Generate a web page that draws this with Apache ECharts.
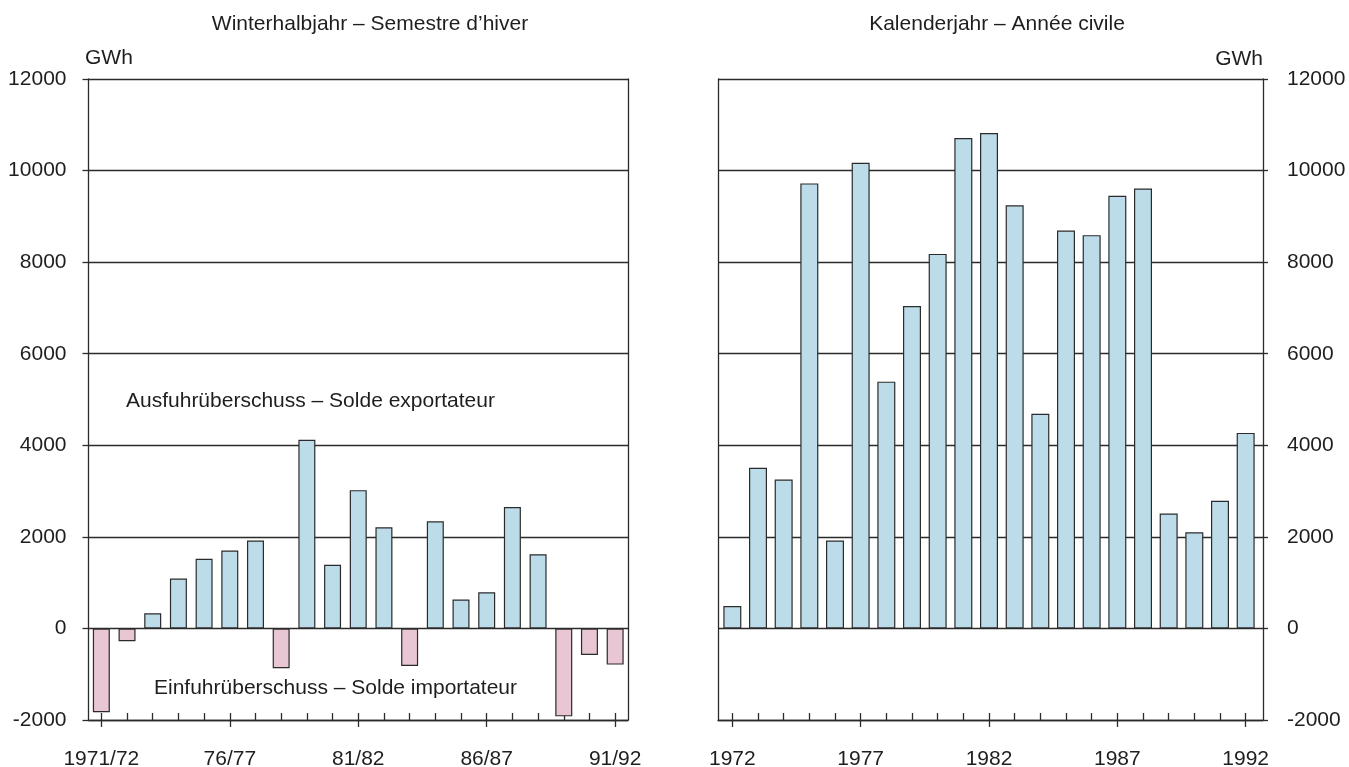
<!DOCTYPE html>
<html>
<head>
<meta charset="utf-8">
<script src="https://cdn.jsdelivr.net/npm/echarts@6/dist/echarts.min.js"></script>
<style>
html,body{margin:0;padding:0;background:#ffffff;}
#chart{width:1349px;height:767px;}
</style>
</head>
<body>
<div id="chart"></div>
<script>
// ---- data ----
const winterCategories = ['1971/72','72/73','73/74','74/75','75/76','76/77','77/78','78/79','79/80','80/81','81/82','82/83','83/84','84/85','85/86','86/87','87/88','88/89','89/90','90/91','91/92'];
const winterValues = [-1830,-280,330,1090,1520,1700,1920,-870,4120,1390,3020,2210,-820,2340,630,790,2650,1620,-1920,-580,-790];
const yearCategories = ['1972','1973','1974','1975','1976','1977','1978','1979','1980','1981','1982','1983','1984','1985','1986','1987','1988','1989','1990','1991','1992'];
const yearValues = [490,3510,3250,9720,1920,10170,5390,7040,8180,10710,10820,9240,4690,8690,8590,9450,9610,2510,2100,2790,4270];
const yTicks = [-2000,0,2000,4000,6000,8000,10000,12000];

const titleLeft = 'Winterhalbjahr \u2013 Semestre d\u2019hiver';
const titleRight = 'Kalenderjahr \u2013 Ann\u00e9e civile';
const unitLabel = 'GWh';
const exportLabel = 'Ausfuhr\u00fcberschuss \u2013 Solde exportateur';
const importLabel = 'Einfuhr\u00fcberschuss \u2013 Solde importateur';

// ---- styles ----
const FONT = '"Liberation Sans", Arial, Helvetica, sans-serif';
const INK = '#2b2b2b';
const TXT = '#1e1e1e';
const BLUE = '#bcdce9';
const PINK = '#e8c6d3';
const FS = 21;
const yMin = yTicks[0], yMax = yTicks[yTicks.length - 1], yStep = yTicks[1] - yTicks[0];

const chart = echarts.init(document.getElementById('chart'), null, {renderer: 'canvas'});

const lineStyle = {color: INK, width: 1.3};
const plainNum = v => String(v);

function frameY(gridIndex, position, opts) {
  return Object.assign({
    type: 'value', gridIndex: gridIndex, position: position,
    min: yMin, max: yMax, interval: yStep,
    axisLine: {show: true, onZero: false, lineStyle: lineStyle},
    axisTick: {show: false},
    axisLabel: {show: false},
    splitLine: {show: false}
  }, opts || {});
}

function barData(values) {
  return values.map(v => ({
    value: v,
    itemStyle: {color: v >= 0 ? BLUE : PINK}
  }));
}

const gridBase = {top: 79, height: 641, containLabel: false, outerBoundsMode: 'none'};

const option = {
  animation: false,
  backgroundColor: '#ffffff',
  textStyle: {fontFamily: FONT},
  grid: [
    Object.assign({left: 88.5, width: 539.5}, gridBase),
    Object.assign({left: 718, width: 545}, gridBase),
    Object.assign({left: 719.5, width: 539}, gridBase)
  ],
  xAxis: [
    {type: 'category', gridIndex: 0, data: winterCategories, position: 'bottom',
     axisLine: {show: true, onZero: false, lineStyle: lineStyle},
     axisTick: {show: true, inside: true, length: 7, alignWithLabel: true, interval: 0, lineStyle: lineStyle},
     axisLabel: {show: false}, splitLine: {show: false}},
    {type: 'category', gridIndex: 0, data: winterCategories, position: 'bottom',
     axisLine: {show: false, onZero: false},
     axisTick: {show: true, inside: false, length: 7, alignWithLabel: true, interval: 4, lineStyle: lineStyle},
     axisLabel: {show: true, interval: 4, margin: 29, fontSize: FS, color: TXT, fontFamily: FONT},
     splitLine: {show: false}},
    {type: 'category', gridIndex: 1, data: yearCategories, position: 'bottom',
     axisLine: {show: true, onZero: false, lineStyle: lineStyle},
     axisTick: {show: false}, axisLabel: {show: false}, splitLine: {show: false}},
    {type: 'category', gridIndex: 2, data: yearCategories, position: 'bottom',
     axisLine: {show: false, onZero: false},
     axisTick: {show: true, inside: true, length: 7, alignWithLabel: true, interval: 0, lineStyle: lineStyle},
     axisLabel: {show: false}, splitLine: {show: false}},
    {type: 'category', gridIndex: 2, data: yearCategories, position: 'bottom',
     axisLine: {show: false, onZero: false},
     axisTick: {show: true, inside: false, length: 7, alignWithLabel: true, interval: 4, lineStyle: lineStyle},
     axisLabel: {show: true, interval: 4, margin: 29, fontSize: FS, color: TXT, fontFamily: FONT},
     splitLine: {show: false}}
  ],
  yAxis: [
    frameY(0, 'left', {
      axisTick: {show: true, inside: false, length: 6, lineStyle: lineStyle},
      axisLabel: {show: true, margin: 22, fontSize: FS, color: TXT, fontFamily: FONT, formatter: plainNum},
      splitLine: {show: true, lineStyle: {color: INK, width: 1.3}}
    }),
    frameY(0, 'right'),
    frameY(1, 'right', {
      axisTick: {show: true, inside: false, length: 5, lineStyle: lineStyle},
      axisLabel: {show: true, margin: 24, fontSize: FS, color: TXT, fontFamily: FONT, formatter: plainNum},
      splitLine: {show: true, lineStyle: {color: INK, width: 1.3}}
    }),
    frameY(1, 'left'),
    frameY(2, 'left', {show: false, axisLine: {show: false}})
  ],
  series: [
    {type: 'bar', name: 'winter', xAxisIndex: 0, yAxisIndex: 0, data: barData(winterValues),
     barWidth: 17, z: 3,
     itemStyle: {borderColor: INK, borderWidth: 1.2}},
    {type: 'bar', name: 'year', xAxisIndex: 3, yAxisIndex: 4, data: barData(yearValues),
     barWidth: 18, z: 3,
     itemStyle: {borderColor: INK, borderWidth: 1.2}}
  ],
  graphic: [
    {type: 'text', x: 370, y: 24, style: {text: titleLeft, font: FS + 'px ' + FONT, fill: TXT, textAlign: 'center', textVerticalAlign: 'middle'}},
    {type: 'text', x: 997, y: 24, style: {text: titleRight, font: FS + 'px ' + FONT, fill: TXT, textAlign: 'center', textVerticalAlign: 'middle'}},
    {type: 'text', x: 85, y: 58, style: {text: unitLabel, font: FS + 'px ' + FONT, fill: TXT, textAlign: 'left', textVerticalAlign: 'middle'}},
    {type: 'text', x: 1263, y: 59, style: {text: unitLabel, font: FS + 'px ' + FONT, fill: TXT, textAlign: 'right', textVerticalAlign: 'middle'}},
    {type: 'text', x: 126, y: 401, style: {text: exportLabel, font: FS + 'px ' + FONT, fill: TXT, textAlign: 'left', textVerticalAlign: 'middle'}},
    {type: 'text', x: 154, y: 688, style: {text: importLabel, font: FS + 'px ' + FONT, fill: TXT, textAlign: 'left', textVerticalAlign: 'middle'}}
  ]
};

chart.setOption(option);
</script>
</body>
</html>
